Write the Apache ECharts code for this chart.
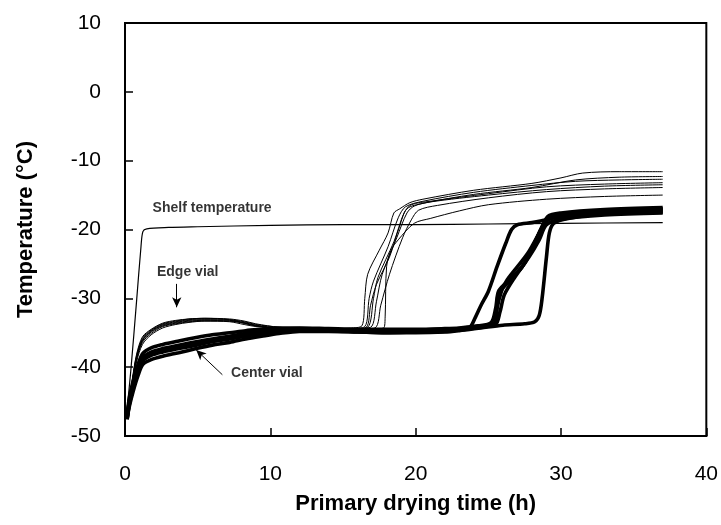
<!DOCTYPE html>
<html>
<head>
<meta charset="utf-8">
<script src="https://cdn.jsdelivr.net/npm/echarts@6/dist/echarts.min.js"></script>
<style>
  html, body { margin: 0; padding: 0; background: #fff; }
  #chart { width: 721px; height: 525px; }
</style>
</head>
<body>
<div id="chart"></div>
<script>
// [time (h), temperature (°C)]
const shelf = [[0.1,-47],[0.4,-40.5],[0.8,-30.3],[1.1,-22.5],[1.23,-20.3],[1.5,-19.9],[3,-19.7],[5,-19.6],[10,-19.4],[15,-19.3],[20,-19.3],[25,-19.2],[30,-19.1],[37,-19.0]];

const edge1 = [[0.2,-46.8],[0.5,-42],[0.8,-38.3],[1.2,-35.8],[1.8,-34.6],[2.6,-33.7],[3.5,-33.3],[4.4,-33.0],[5.5,-32.9],[7.2,-33.0],[8.2,-33.3],[9,-33.7],[10.6,-34.2],[12,-34.3],[14,-34.4],[15.5,-34.3],
  [16.3,-34.0],[16.5,-30],[16.7,-26.5],[17.5,-23],[18.1,-20.5],[18.5,-17.6],[18.9,-17.0],[19.6,-16.1],[20.5,-15.6],[24,-14.3],[28,-13.3],[30,-12.5],[31.5,-11.8],[34,-11.6],[37,-11.6]];
const edge2 = [[0.2,-47],[0.5,-42.3],[0.8,-38.6],[1.2,-36.1],[1.8,-34.8],[2.6,-33.9],[3.5,-33.5],[4.4,-33.2],[5.5,-33.1],[7.2,-33.2],[8.2,-33.5],[9,-33.9],[10.6,-34.3],[12,-34.4],[14,-34.5],[15.5,-34.4],
  [16.5,-34.1],[16.8,-30],[17.1,-27.5],[18.1,-22.5],[18.8,-18.3],[19.3,-16.7],[20.5,-15.9],[24,-14.6],[28,-13.6],[31,-13.0],[34,-12.8],[37,-12.7]];
const edge3 = [[0.2,-47.2],[0.5,-42.6],[0.8,-38.9],[1.2,-36.4],[1.8,-35.1],[2.6,-34.1],[3.5,-33.7],[4.4,-33.4],[5.5,-33.3],[7.2,-33.3],[8.2,-33.6],[9,-34.0],[10.6,-34.4],[12,-34.5],[14,-34.5],[15.5,-34.5],
  [16.7,-34.2],[17.1,-30],[17.4,-27],[18.5,-21.8],[19.2,-17.6],[19.7,-16.4],[21,-15.9],[25,-14.8],[29,-13.8],[33,-13.4],[37,-13.2]];
const edge4 = [[0.2,-46.6],[0.5,-41.8],[0.8,-38.1],[1.2,-35.6],[1.8,-34.5],[2.6,-33.6],[3.5,-33.2],[4.4,-33.0],[5.5,-32.9],[7.2,-33.1],[8.2,-33.6],[9,-34.0],[10.6,-34.3],[12,-34.4],[14,-34.4],[15.5,-34.4],
  [16.9,-34.2],[17.3,-30.5],[17.7,-26.5],[18.7,-21.2],[19.4,-17.6],[19.9,-16.6],[21,-16.0],[25,-15.0],[29,-14.2],[33,-13.7],[37,-13.5]];
const edge5 = [[0.2,-47.4],[0.5,-42.9],[0.8,-39.2],[1.2,-36.7],[1.8,-35.3],[2.6,-34.3],[3.5,-33.8],[4.4,-33.5],[5.5,-33.3],[7.2,-33.4],[8.2,-33.8],[9,-34.1],[10.6,-34.4],[12,-34.5],[14,-34.6],[15.5,-34.6],
  [17.2,-34.3],[17.6,-31],[18.2,-26.5],[19.1,-21.2],[19.7,-18.6],[20.2,-17.2],[21.5,-16.5],[25,-15.4],[29,-14.5],[33,-14.1],[37,-13.9]];
const edge6 = [[0.2,-46.9],[0.5,-42.1],[0.8,-38.5],[1.2,-36.0],[1.8,-34.7],[2.6,-33.8],[3.5,-33.4],[4.4,-33.1],[5.5,-33.0],[7.2,-33.1],[8.2,-33.4],[9,-33.8],[10.6,-34.2],[12,-34.4],[14,-34.5],[15.5,-34.5],
  [16.6,-34.2],[16.9,-31],[17.3,-28],[18.2,-24],[18.9,-19.5],[19.4,-17.0],[20.5,-16.2],[24,-14.9],[28,-13.9],[31,-12.8],[34,-12.4],[37,-12.3]];
const edge7 = [[0.2,-47.1],[0.5,-42.4],[0.8,-38.7],[1.2,-36.2],[1.8,-34.9],[2.6,-34.0],[3.5,-33.6],[4.4,-33.3],[5.5,-33.2],[7.2,-33.3],[8.2,-33.6],[9,-34.0],[10.6,-34.4],[12,-34.5],[14,-34.6],[15.5,-34.6],
  [17.8,-34.3],[17.9,-32.7],[18.0,-25.4],[18.3,-23],[18.8,-21.5],[19.9,-19.1],[21,-18.4],[23,-17.3],[25,-16.4],[29,-15.6],[33,-15.2],[37,-15.0]];

const center1 = [[0.15,-47.6],[0.3,-45.2],[0.55,-43.0],[0.9,-40.5],[1.23,-38.9],[1.8,-38.1],[2.6,-37.6],[3.7,-37.1],[4.9,-36.6],[6,-36.2],[7.2,-35.8],[8.3,-35.4],[9.4,-35.0],[10.6,-34.7],[12,-34.5],[14,-34.6],[16,-34.7],[18,-34.8],[20,-34.8],[22,-34.7],
  [23,-34.6],[23.7,-34.3],[24.1,-32.8],[24.5,-31],[25,-29],[25.6,-25.4],[26.2,-22],[26.6,-20],[27,-19.3],[28,-19.0],[29,-18.6],[30,-18.0],[33,-17.4],[37,-17.1]];
const center2 = [[0.15,-47.4],[0.3,-45.7],[0.55,-43.6],[0.9,-41.2],[1.23,-39.6],[1.8,-38.9],[2.6,-38.4],[3.7,-37.9],[4.9,-37.3],[6,-36.8],[7.2,-36.4],[8.3,-35.9],[9.4,-35.5],[10.6,-35.1],[12,-34.8],[14,-34.8],[16,-34.9],[18,-35.0],[20,-34.9],[22,-34.8],
  [23,-34.6],[24.5,-34.2],[25.4,-33.7],[25.6,-31],[25.7,-29.3],[26.4,-27.6],[27.5,-24.9],[28.4,-21],[29.1,-18.6],[30,-18.2],[33,-17.6],[37,-17.3]];
const center3 = [[0.15,-47.2],[0.3,-44.9],[0.55,-42.7],[0.9,-40.2],[1.23,-38.6],[1.8,-37.8],[2.6,-37.3],[3.7,-36.8],[4.9,-36.3],[6,-35.9],[7.2,-35.5],[8.3,-35.1],[9.4,-34.8],[10.6,-34.5],[12,-34.4],[14,-34.5],[16,-34.6],[18,-34.6],[20,-34.6],[22,-34.5],
  [23,-34.4],[24.5,-34.0],[25.5,-33.6],[25.6,-31.5],[25.9,-29],[26.3,-27.3],[27.7,-23.5],[28.6,-20.1],[29.1,-18.1],[30,-17.6],[33,-17.1],[37,-16.8]];
const center4 = [[0.15,-47.5],[0.3,-45.4],[0.55,-43.2],[0.9,-40.7],[1.23,-39.1],[1.8,-38.3],[2.6,-37.8],[3.7,-37.3],[4.9,-36.8],[6,-36.3],[7.2,-35.9],[8.3,-35.5],[9.4,-35.1],[10.6,-34.8],[12,-34.6],[14,-34.7],[16,-34.8],[18,-34.9],[20,-34.8],[22,-34.7],
  [23,-34.5],[24.5,-34.1],[25.5,-33.8],[25.8,-32],[26.1,-29.5],[26.8,-27],[27.8,-24],[28.5,-21.5],[29.0,-19.3],[30,-18.5],[33,-17.9],[37,-17.6]];
const center5 = [[0.15,-47.3],[0.3,-45.0],[0.55,-42.9],[0.9,-40.4],[1.23,-38.8],[1.8,-38.0],[2.6,-37.5],[3.7,-37.0],[4.9,-36.5],[6,-36.1],[7.2,-35.7],[8.3,-35.3],[9.4,-34.9],[10.6,-34.6],[12,-34.5],[14,-34.7],[16,-34.9],[18,-35.0],[20,-35.0],[22,-34.9],
  [23,-34.7],[24.5,-34.3],[26,-33.9],[27.5,-33.7],[28.2,-33.4],[28.5,-32.5],[28.7,-30],[29.0,-24],[29.2,-20.5],[29.5,-19.1],[30.5,-18.4],[33,-17.7],[37,-17.5]];
const center6 = [[0.15,-47.0],[0.3,-44.4],[0.55,-42.1],[0.9,-39.6],[1.23,-38.0],[1.8,-37.2],[2.6,-36.7],[3.7,-36.2],[4.9,-35.7],[6,-35.3],[7.2,-35.0],[8.3,-34.7],[9.4,-34.5],[10.6,-34.3],[12,-34.3],[14,-34.4],[16,-34.5],[18,-34.5],[20,-34.5],[22,-34.4],
  [23,-34.3],[24.3,-34.0],[25.2,-33.5],[25.5,-31.5],[25.7,-29.0],[26.2,-27.8],[27.3,-25.5],[28.2,-22],[28.9,-18.9],[30,-17.9],[33,-17.3],[37,-17.0]];

const edgeVials = [edge1, edge2, edge3, edge4, edge5, edge6, edge7];
const centerVials = [center1, center2, center3, center4, center5, center6];

// annotation text anchors and arrows, in data units
const notes = [[1.9, -16.9, 'Shelf temperature'], [2.2, -26.2, 'Edge vial'], [7.3, -40.85, 'Center vial']];
const arrows = [[[3.56, -27.9], [3.56, -31.3]], [[6.7, -41.1], [4.9, -37.5]]];

const font = 'Arial, "Liberation Sans", sans-serif';
const chart = echarts.init(document.getElementById('chart'));

const lineSeries = (data, width) => ({
  type: 'line',
  data: data,
  showSymbol: false,
  smooth: 0.3,
  lineStyle: { color: '#000', width: width },
  z: width > 2 ? 3 : 4
});

const series = [lineSeries(shelf, 1.2)]
  .concat(edgeVials.map(d => lineSeries(d, 1)))
  .concat(centerVials.map(d => lineSeries(d, 3.6)));

series.push({
  type: 'scatter',
  data: notes,
  symbolSize: 0,
  label: {
    show: true,
    position: 'right',
    distance: 0,
    formatter: p => p.data[2],
    color: '#000',
    fontFamily: font,
    fontWeight: 'bold',
    fontSize: 14
  },
  markLine: {
    silent: true,
    symbol: ['none', 'arrow'],
    symbolSize: [7, 10],
    label: { show: false },
    lineStyle: { color: '#000', width: 1, type: 'solid' },
    data: arrows.map(a => [{ coord: a[0] }, { coord: a[1] }])
  }
});

const option = {
  animation: false,
  grid: {
    left: 125, right: 11, top: 23, bottom: 89,
    show: true, borderColor: '#000', borderWidth: 2
  },
  xAxis: {
    type: 'value',
    min: 0, max: 40, interval: 10,
    name: 'Primary drying time (h)',
    nameLocation: 'middle',
    nameGap: 57,
    nameTextStyle: { color: '#000', fontFamily: font, fontWeight: 'bold', fontSize: 22 },
    axisLine: { onZero: false, lineStyle: { color: '#000', width: 2 } },
    axisTick: { inside: true, length: 8, lineStyle: { color: '#000', width: 1.5 } },
    axisLabel: { color: '#000', fontFamily: font, fontSize: 21, margin: 28 },
    splitLine: { show: false }
  },
  yAxis: {
    type: 'value',
    min: -50, max: 10, interval: 10,
    name: 'Temperature (°C)',
    nameLocation: 'middle',
    nameGap: 88,
    nameTextStyle: { color: '#000', fontFamily: font, fontWeight: 'bold', fontSize: 22 },
    axisLine: { onZero: false, lineStyle: { color: '#000', width: 2 } },
    axisTick: { inside: true, length: 8, lineStyle: { color: '#000', width: 1.5 } },
    axisLabel: { color: '#000', fontFamily: font, fontSize: 21, margin: 24 },
    splitLine: { show: false }
  },
  series: series
};

chart.setOption(option);
</script>
</body>
</html>
